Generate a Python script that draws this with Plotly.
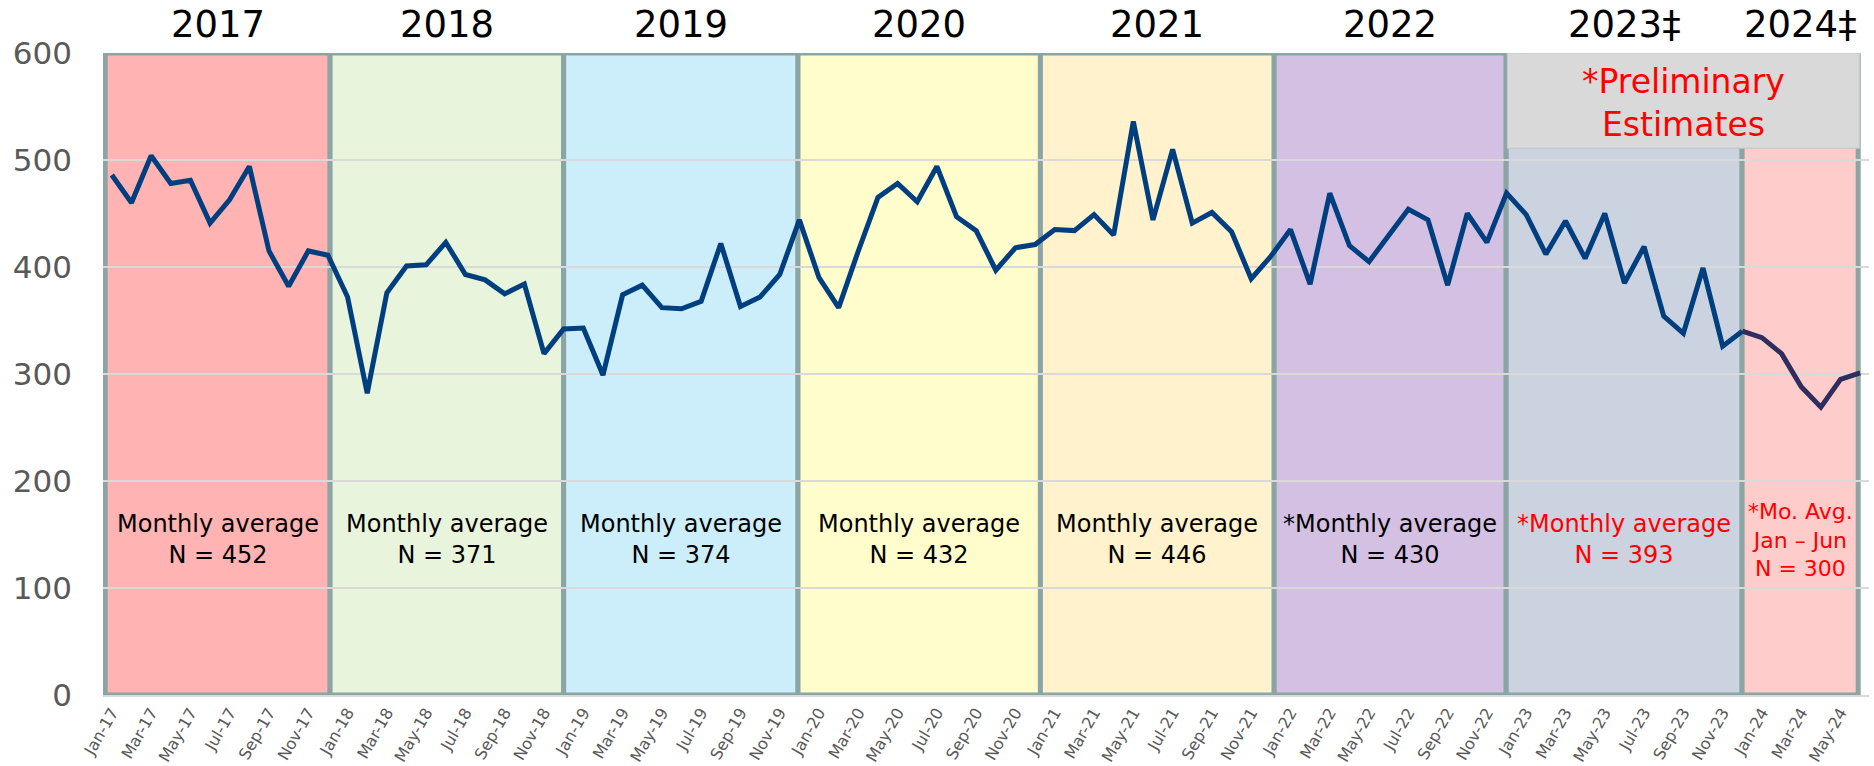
import plotly.graph_objects as go

# ---------------- data ----------------
months = ["Jan", "Feb", "Mar", "Apr", "May", "Jun", "Jul", "Aug", "Sep", "Oct", "Nov", "Dec"]
years = [2017, 2018, 2019, 2020, 2021, 2022, 2023, 2024]

vals_2017 = [486, 460, 504, 478, 481, 441, 463, 494, 415, 382, 415, 411]
vals_2018 = [372, 282, 376, 401, 402, 423, 393, 388, 375, 384, 319, 342]
vals_2019 = [343, 299, 374, 383, 362, 361, 368, 422, 363, 372, 393, 444]
vals_2020 = [390, 362, 415, 465, 478, 461, 494, 447, 434, 397, 418, 421]
vals_2021 = [435, 434, 449, 430, 536, 444, 510, 441, 451, 433, 389, 410]
vals_2022 = [435, 384, 469, 420, 405, 430, 454, 444, 383, 450, 423, 469]
vals_2023 = [449, 412, 443, 408, 450, 385, 419, 354, 338, 399, 326, 340]
vals_2024 = [334, 319, 288, 269, 295, 301]

year_labels = ["2017", "2018", "2019", "2020", "2021", "2022", "2023‡", "2024‡"]
avg_texts = [
    "Monthly average<br>N = 452",
    "Monthly average<br>N = 371",
    "Monthly average<br>N = 374",
    "Monthly average<br>N = 432",
    "Monthly average<br>N = 446",
    "*Monthly average<br>N = 430",
    "*Monthly average<br>N = 393",
    "*Mo. Avg.<br>Jan – Jun<br>N = 300",
]
band_colors = ["#FFB3B3", "#E9F4DC", "#CCEEFA", "#FFFDCC", "#FFF2CC", "#D4C0E2", "#CCD3E0", "#FFCCCC"]
avg_colors = ["#000000"] * 6 + ["#FF0000", "#FF0000"]

# band edges (in month-index units)
band_edges = [-0.34, 11.11, 23.0, 34.93, 47.27, 59.17, 70.98, 82.99, 88.9]

# ---------------- build ----------------
all_vals = vals_2017 + vals_2018 + vals_2019 + vals_2020 + vals_2021 + vals_2022 + vals_2023 + vals_2024
labels = []
for y in years:
    for m in months:
        labels.append(f"{m}-{str(y)[2:]}")
labels = labels[:len(all_vals)]
idx = list(range(len(all_vals)))

n_main = len(all_vals) - len(vals_2024)  # through Dec-23

fig = go.Figure()
fig.add_trace(go.Scatter(
    x=idx[:n_main], y=all_vals[:n_main], mode="lines",
    line=dict(color="#003F7F", width=5), showlegend=False, hoverinfo="skip"))
fig.add_trace(go.Scatter(
    x=idx[n_main - 1:], y=all_vals[n_main - 1:], mode="lines",
    line=dict(color="#2E2D5E", width=5), showlegend=False, hoverinfo="skip"))

shapes = []
annotations = []
for i, y in enumerate(years):
    x0, x1 = band_edges[i], band_edges[i + 1]
    shapes.append(dict(type="rect", xref="x", yref="y", x0=x0, x1=x1, y0=0, y1=600,
                       fillcolor=band_colors[i], line=dict(color="#8BA5A5", width=5),
                       layer="below"))
    xc = (x0 + x1) / 2
    annotations.append(dict(x=xc, y=1, xref="x", yref="paper", text=year_labels[i],
                            showarrow=False, font=dict(size=37, color="#000000"),
                            xanchor="center", yanchor="middle", yshift=29))
    annotations.append(dict(x=xc, y=145, xref="x", yref="y", text=avg_texts[i],
                            showarrow=False,
                            font=dict(size=22 if i == 7 else 24, color=avg_colors[i]),
                            xanchor="center", yanchor="middle"))

# preliminary estimates box
shapes.append(dict(type="rect", xref="x", yref="y", x0=71.04, x1=88.97, y0=511, y1=600,
                   fillcolor="#D9D9D9", line=dict(color="#BFC8C8", width=1), layer="above"))
annotations.append(dict(x=(71.04 + 88.97) / 2, y=553.5, xref="x", yref="y",
                        text="*Preliminary<br>Estimates", showarrow=False,
                        font=dict(size=33, color="#FF0000"), xanchor="center", yanchor="middle"))

fig.update_layout(
    width=1874, height=766, autosize=False,
    margin=dict(l=103, r=5, t=53, b=71),
    paper_bgcolor="white", plot_bgcolor="white",
    font=dict(family="DejaVu Sans, Verdana, sans-serif"),
    shapes=shapes, annotations=annotations,
    xaxis=dict(range=[-0.45, 89.45], tickmode="array",
               tickvals=idx[::2], ticktext=labels[::2], tickangle=-60,
               tickfont=dict(size=16, color="#595959"), showgrid=False,
               zeroline=False, showline=True, linecolor="#D9D9D9", linewidth=2,
               automargin=False),
    yaxis=dict(range=[0, 600], dtick=100, tickfont=dict(size=31, color="#595959"),
               gridcolor="#D9D9D9", gridwidth=1.5, zeroline=False, showline=False,
               ticklabelstandoff=30, automargin=False),
)

fig.write_html("out.html", config={"displayModeBar": False},
               post_script="document.body.style.margin='0';")
